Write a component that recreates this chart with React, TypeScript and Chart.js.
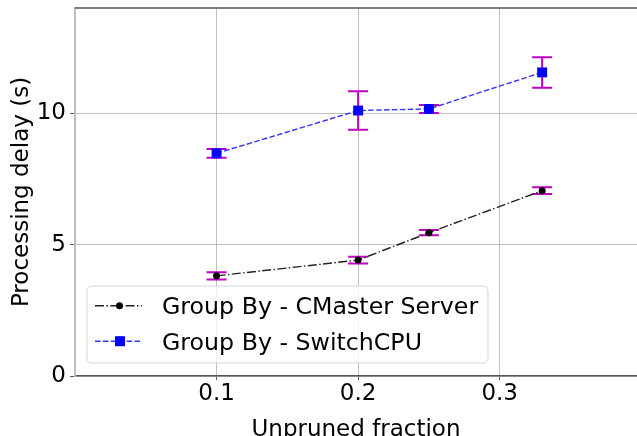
import React, { useEffect, useRef } from "react";
import { Chart, registerables } from "chart.js";

Chart.register(...registerables);

const fractions = [0.1, 0.2, 0.25, 0.33];
const cmasterDelay = [3.81, 4.41, 5.45, 7.05];
const cmasterErr = [0.14, 0.13, 0.1, 0.13];
const switchDelay = [8.47, 10.1, 10.16, 11.55];
const switchErr = [0.17, 0.73, 0.15, 0.58];
const xTicks = [0.1, 0.2, 0.3];
const yTicks = [0, 5, 10];
const seriesLabels = ["Group By - CMaster Server", "Group By - SwitchCPU"];
const xTitle = "Unpruned fraction";
const yTitle = "Processing delay (s)";

const FONT = "'DejaVu Sans', sans-serif";
const ERR_COLOR = "#bf00bf";
const BLACK_LINE = "#222222";
const BLUE_LINE = "rgba(0,0,255,0.8)";
const BLACK_DASH = [9, 2.4, 1.5, 2.4];
const BLUE_DASH = [5.5, 2.4];

const errorsBySeries = [cmasterErr, switchErr];
const valuesBySeries = [cmasterDelay, switchDelay];

const errorBarPlugin = {
  id: "errorBars",
  beforeDatasetsDraw(chart: any) {
    const { ctx, chartArea, scales } = chart;
    const xs = scales.x;
    const ys = scales.y;
    ctx.save();
    ctx.beginPath();
    ctx.rect(chartArea.left, chartArea.top, chartArea.right - chartArea.left, chartArea.bottom - chartArea.top);
    ctx.clip();
    ctx.strokeStyle = ERR_COLOR;
    ctx.lineWidth = 2;
    ctx.setLineDash([]);
    valuesBySeries.forEach((vals, si) => {
      const errs = errorsBySeries[si];
      vals.forEach((v, j) => {
        const x = xs.getPixelForValue(fractions[j]);
        const yt = ys.getPixelForValue(v + errs[j]);
        const yb = ys.getPixelForValue(v - errs[j]);
        ctx.beginPath();
        ctx.moveTo(x, yt);
        ctx.lineTo(x, yb);
        ctx.moveTo(x - 10, yt);
        ctx.lineTo(x + 10, yt);
        ctx.moveTo(x - 10, yb);
        ctx.lineTo(x + 10, yb);
        ctx.stroke();
      });
    });
    ctx.restore();
  },
};

const framePlugin = {
  id: "frameAndLegend",
  afterDraw(chart: any) {
    const { ctx, chartArea } = chart;
    ctx.save();
    ctx.strokeStyle = "#555555";
    ctx.lineWidth = 1.5;
    ctx.setLineDash([]);
    ctx.beginPath();
    ctx.moveTo(chartArea.left, chartArea.top);
    ctx.lineTo(chartArea.right, chartArea.top);
    ctx.stroke();

    const bx = 87, by = 286, bw = 401, bh = 77, r = 5;
    ctx.beginPath();
    ctx.moveTo(bx + r, by);
    ctx.lineTo(bx + bw - r, by);
    ctx.quadraticCurveTo(bx + bw, by, bx + bw, by + r);
    ctx.lineTo(bx + bw, by + bh - r);
    ctx.quadraticCurveTo(bx + bw, by + bh, bx + bw - r, by + bh);
    ctx.lineTo(bx + r, by + bh);
    ctx.quadraticCurveTo(bx, by + bh, bx, by + bh - r);
    ctx.lineTo(bx, by + r);
    ctx.quadraticCurveTo(bx, by, bx + r, by);
    ctx.closePath();
    ctx.fillStyle = "rgba(255,255,255,0.8)";
    ctx.fill();
    ctx.strokeStyle = "rgba(204,204,204,0.8)";
    ctx.lineWidth = 1;
    ctx.stroke();

    const rows = [305.7, 341.2];
    chart.data.datasets.forEach((ds: any, i: number) => {
      const y = rows[i];
      ctx.strokeStyle = ds.borderColor;
      ctx.lineWidth = ds.borderWidth;
      ctx.setLineDash(ds.borderDash);
      ctx.beginPath();
      ctx.moveTo(95, y);
      ctx.lineTo(142, y);
      ctx.stroke();
      ctx.setLineDash([]);
      ctx.fillStyle = ds.pointBackgroundColor;
      if (ds.pointStyle === "rect") {
        ctx.fillRect(120 - 5, y - 5, 10, 10);
      } else {
        ctx.beginPath();
        ctx.arc(119.5, y, 3.5, 0, Math.PI * 2);
        ctx.fill();
      }
      ctx.fillStyle = "#000";
      ctx.font = `23.7px ${FONT}`;
      ctx.textBaseline = "alphabetic";
      ctx.textAlign = "left";
      ctx.fillText(ds.label, 162, y + 8.7);
    });
    ctx.restore();
  },
};

export default function App() {
  const ref = useRef<HTMLCanvasElement | null>(null);
  useEffect(() => {
    if (!ref.current) return;
    const chart = new Chart(ref.current, {
      type: "line",
      data: {
        datasets: [
          {
            label: seriesLabels[0],
            data: fractions.map((x, i) => ({ x, y: cmasterDelay[i] })),
            borderColor: BLACK_LINE,
            borderWidth: 1.4,
            borderDash: BLACK_DASH,
            pointStyle: "circle",
            pointRadius: 3.5,
            pointBackgroundColor: "#000",
            pointBorderWidth: 0,
            pointBorderColor: "#000",
            fill: false,
            tension: 0,
          },
          {
            label: seriesLabels[1],
            data: fractions.map((x, i) => ({ x, y: switchDelay[i] })),
            borderColor: BLUE_LINE,
            borderWidth: 1.4,
            borderDash: BLUE_DASH,
            pointStyle: "rect",
            pointRadius: 7,
            pointBackgroundColor: "#0000ff",
            pointBorderWidth: 0,
            pointBorderColor: "#0000ff",
            fill: false,
            tension: 0,
          },
        ],
      } as any,
      options: {
        animation: false,
        responsive: false,
        maintainAspectRatio: false,
        layout: { autoPadding: false, padding: { top: 8, right: 0, left: 0, bottom: 0 } },
        plugins: { legend: { display: false }, tooltip: { enabled: false } },
        scales: {
          x: {
            type: "linear",
            min: 0,
            max: 0.397,
            afterBuildTicks: (s: any) => {
              s.ticks = xTicks.map((v) => ({ value: v }));
            },
            afterFit: (s: any) => {
              s.height = 60;
              s.paddingLeft = 0;
              s.paddingRight = 0;
            },
            grid: { color: "#b0b0b0", lineWidth: 0.8, tickLength: 4, tickColor: "#333", drawTicks: true },
            border: { display: true, color: "#555555", width: 1.5 },
            ticks: {
              color: "#000",
              font: { family: FONT, size: 23 },
              padding: 0,
              maxRotation: 0,
              callback: (v: any) => String(v),
            },
            title: { display: true, text: xTitle, color: "#000", font: { family: FONT, size: 23 }, padding: { top: 0, bottom: -8 } },
          },
          y: {
            type: "linear",
            min: 0,
            max: 14,
            afterBuildTicks: (s: any) => {
              s.ticks = yTicks.map((v) => ({ value: v }));
            },
            afterFit: (s: any) => {
              s.width = 75;
              s.paddingTop = 0;
              s.paddingBottom = 0;
            },
            grid: { color: "#b0b0b0", lineWidth: 0.8, tickLength: 5, tickColor: "#333", drawTicks: true },
            border: { display: true, color: "#c0c0c0", width: 2 },
            ticks: {
              color: "#000",
              font: { family: FONT, size: 23 },
              padding: 4,
              callback: (v: any) => String(v),
            },
            title: { display: true, text: yTitle, color: "#000", font: { family: FONT, size: 23 }, padding: { top: 8, bottom: 0 } },
          },
        },
      } as any,
      plugins: [errorBarPlugin, framePlugin],
    });
    return () => chart.destroy();
  }, []);
  return (
    <div style={{ position: "fixed", left: 0, top: 0, width: 637, height: 436, background: "#fff" }}>
      <canvas ref={ref} width={637} height={436} style={{ width: 637, height: 436, display: "block" }} />
    </div>
  );
}
